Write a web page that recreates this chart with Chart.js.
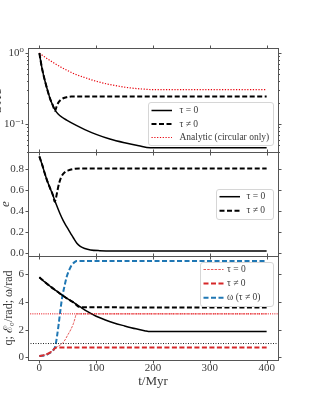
<!DOCTYPE html>
<html><head><meta charset="utf-8">
<script src="https://cdn.jsdelivr.net/npm/chart.js@4"></script>
<style>
html,body{margin:0;padding:0;background:#fff;}
#wrap{position:relative;width:311px;height:405px;overflow:hidden;background:#fff}
canvas{position:absolute;left:0;top:0}
</style></head>
<body><div id="wrap">
<canvas id="c1" width="311" height="405"></canvas>
<canvas id="c2" width="311" height="405"></canvas>
<canvas id="c3" width="311" height="405"></canvas>
</div>
<script>
// ---------- data ----------
const xTicks = [0, 100, 200, 300, 400];

// top panel (log)
const aTicks = [0.1, 1];
const aTickLabels = ['10\u207B\u00B9', '10\u2070'];
const aMinor = [0.04,0.05,0.06,0.07,0.08,0.09,0.2,0.3,0.4,0.5,0.6,0.7,0.8,0.9];
const tA0 = [0,2,4,7,10,14,19,24,28,33,40,48,65,80,100,124,150,175,195,400];
const aTau0 = [1.0,0.8,0.65,0.5,0.4,0.305,0.225,0.18,0.155,0.138,0.124,0.113,0.095,0.083,0.071,0.061,0.054,0.049,0.046,0.046];
const tA1 = [0,2,4,7,10,14,19,24,27.5,30,33,37,42,48,56,400];
const aTau1 = [1.0,0.8,0.65,0.5,0.4,0.305,0.225,0.18,0.152,0.172,0.197,0.216,0.23,0.238,0.243,0.243];
const tAn = [0,10,20,30,40,50,60,80,100,120,140,160,180,200,400];
const aAnalytic = [1.0,0.875,0.775,0.69,0.62,0.565,0.515,0.45,0.4,0.365,0.34,0.322,0.311,0.305,0.305];

// middle panel (e)
const eTicks = [0, 0.2, 0.4, 0.6, 0.8];
const tE0 = [0,5,10,13,18,24.6,30,36,42,48,55,60,66,72,80,90,106,130,400];
const eTau0 = [0.92,0.84,0.75,0.70,0.63,0.54,0.46,0.38,0.31,0.253,0.19,0.145,0.095,0.065,0.045,0.032,0.025,0.022,0.022];
const tE1 = [0,5,10,13,18,24,27,29,32,35,39,45,51,60,70,400];
const eTau1 = [0.92,0.84,0.75,0.70,0.63,0.55,0.49,0.52,0.60,0.67,0.73,0.77,0.787,0.80,0.805,0.805];

// bottom panel (q, E0, omega)
const qTicks = [0, 2, 4, 6];
const tQ0 = [0,10,20,30,40,50,60,72,85,100,115,130,150,170,185,195,400];
const qTau0 = [5.78,5.43,5.1,4.8,4.5,4.22,3.97,3.64,3.3,2.97,2.72,2.5,2.27,2.06,1.93,1.86,1.86];
const tQ1 = [0,10,20,30,40,50,60,72,400];
const qTau1 = [5.78,5.43,5.1,4.8,4.5,4.22,3.97,3.62,3.6];
const tW = [0,10,19,25,28,31,34,37,40,44,48,53,57,62,66,400];
const omegaTau1 = [0.1,0.15,0.33,0.55,0.8,1.5,2.4,3.4,4.3,5.1,5.8,6.35,6.67,6.88,6.96,6.96];
const tC0 = [0,10,20,25,30,35,40,45,50,55,60,63,65,400];
const calE0Tau0 = [0.1,0.18,0.38,0.55,0.72,0.85,1.0,1.25,1.62,1.98,2.45,2.85,3.14,3.14];
const tC1 = [0,10,20,25,28,31,400];
const calE0Tau1 = [0.1,0.18,0.38,0.55,0.68,0.72,0.72];
const tRef = [-20, 420];
const piLevel = [Math.PI, Math.PI];
const oneLevel = [1, 1];

// ---------- helpers ----------
const FONT = "'Liberation Serif','DejaVu Serif',serif";
const TXT = '#3a3a3a';
const FRAME = '#555';
const zip = (xs, ys) => xs.map((x, i) => ({x, y: ys[i]}));

function ds(label, xs, ys, color, width, dash, legend) {
  return {label, data: zip(xs, ys), borderColor: color, backgroundColor: color,
    borderWidth: width, borderDash: dash || [], pointRadius: 0, fill: false,
    cubicInterpolationMode: 'monotone', legend: !!legend};
}

const framePlugin = {
  id: 'frameLegend',
  afterDatasetsDraw(chart) {
    const o = chart.config.options.plugins.frameLegend;
    const {ctx, chartArea: a} = chart;
    const xs = chart.scales.x, ys = chart.scales.y;
    ctx.save();
    ctx.strokeStyle = FRAME; ctx.lineWidth = 1; ctx.setLineDash([]);
    const L = Math.round(a.left) + 0.5, R = Math.round(a.right) + 0.5;
    const T = Math.round(a.top) + 0.5, B = Math.round(a.bottom) + 0.5;
    ctx.strokeRect(L, T, R - L, B - T);
    ctx.beginPath();
    for (const v of xTicks) {
      const px = Math.round(xs.getPixelForValue(v)) + 0.5;
      ctx.moveTo(px, T); ctx.lineTo(px, T - 3);
      ctx.moveTo(px, B); ctx.lineTo(px, B + 3);
    }
    for (const v of o.major) {
      const py = Math.round(ys.getPixelForValue(v)) + 0.5;
      ctx.moveTo(L, py); ctx.lineTo(L - 3, py);
      ctx.moveTo(R, py); ctx.lineTo(R + 3, py);
    }
    for (const v of (o.minor || [])) {
      const py = Math.round(ys.getPixelForValue(v)) + 0.5;
      ctx.moveTo(L, py); ctx.lineTo(L - 1.5, py);
      ctx.moveTo(R, py); ctx.lineTo(R + 1.5, py);
    }
    ctx.stroke();

    // legend
    const lg = o.legend;
    const items = chart.data.datasets.filter(d => d.legend);
    ctx.fillStyle = 'rgba(255,255,255,0.85)';
    ctx.strokeStyle = '#d6d6d6';
    ctx.lineWidth = 1;
    const r = 2.5, bx = lg.x0 + 0.5, by = lg.y0 + 0.5, bw = lg.x1 - lg.x0, bh = lg.y1 - lg.y0;
    ctx.beginPath();
    ctx.moveTo(bx + r, by); ctx.lineTo(bx + bw - r, by); ctx.arcTo(bx + bw, by, bx + bw, by + r, r);
    ctx.lineTo(bx + bw, by + bh - r); ctx.arcTo(bx + bw, by + bh, bx + bw - r, by + bh, r);
    ctx.lineTo(bx + r, by + bh); ctx.arcTo(bx, by + bh, bx, by + bh - r, r);
    ctx.lineTo(bx, by + r); ctx.arcTo(bx, by, bx + r, by, r); ctx.closePath();
    ctx.fill(); ctx.stroke();
    ctx.font = lg.fontSize + 'px ' + FONT;
    ctx.textBaseline = 'middle'; ctx.textAlign = 'left';
    items.forEach((d, i) => {
      const y = lg.rows[i];
      ctx.strokeStyle = d.borderColor; ctx.lineWidth = d.borderWidth;
      ctx.setLineDash(d.borderDash || []);
      ctx.beginPath(); ctx.moveTo(lg.s0, y); ctx.lineTo(lg.s1, y); ctx.stroke();
      ctx.setLineDash([]);
      ctx.fillStyle = TXT;
      ctx.fillText(d.label, lg.tx, y);
    });
    ctx.restore();
  }
};

function makePanel(id, area, yCfg, datasets, plug, showX) {
  const xScale = {
    type: 'linear', min: -20, max: 420, display: !!showX, position: 'bottom',
    grid: {display: false, drawTicks: false}, border: {display: false},
    ticks: {color: TXT, font: {family: FONT, size: 11}, padding: 2, autoSkip: false, maxRotation: 0,
      callback: v => String(v)},
    afterBuildTicks: s => { s.ticks = xTicks.map(v => ({value: v})); },
    afterFit: s => { s.height = showX ? 29 : 0; },
    title: {display: !!showX, text: 't/Myr', color: TXT, font: {family: FONT, size: 13}, padding: {top: 0, bottom: 0}}
  };
  const yScale = Object.assign({
    position: 'left',
    grid: {display: false, drawTicks: false}, border: {display: false},
    afterFit: s => { s.width = area.l; }
  }, yCfg);
  return new Chart(document.getElementById(id), {
    type: 'line',
    data: {datasets},
    options: {
      responsive: false, animation: false, devicePixelRatio: 1,
      parsing: true, normalized: true,
      layout: {padding: {left: 0, right: 311 - area.r, top: area.t, bottom: 405 - area.b - (showX ? 29 : 0)}},
      scales: {x: xScale, y: yScale},
      plugins: {legend: {display: false}, tooltip: {enabled: false}, frameLegend: plug}
    },
    plugins: [framePlugin]
  });
}

const tickFont = {family: FONT, size: 11};

// ---------- top panel ----------
makePanel('c1', {l: 28, r: 278, t: 48, b: 152}, {
  type: 'logarithmic', min: 0.04, max: 1.18,
  ticks: {color: TXT, font: tickFont, padding: 4, autoSkip: false,
    callback: v => { const i = aTicks.indexOf(v); return i >= 0 ? aTickLabels[i] : ''; }},
  afterBuildTicks: s => { s.ticks = aTicks.map(v => ({value: v})); },
  title: {display: true, text: 'a/AU', color: TXT, font: {family: FONT, size: 12}, padding: {top: -9, bottom: 0}}
}, [
  ds('\u03C4 = 0', tA0, aTau0, '#000', 1.5, [], true),
  ds('\u03C4 \u2260 0', tA1, aTau1, '#000', 2, [5, 2.5], true),
  ds('Analytic (circular only)', tAn, aAnalytic, '#e8000b', 1.2, [1.2, 1.6], true)
], {
  major: aTicks, minor: aMinor,
  legend: {x0: 148, x1: 273, y0: 102, y1: 145, rows: [110.5, 124, 137.5], s0: 151.5, s1: 172, tx: 179.5, fontSize: 9.5}
});

// ---------- middle panel ----------
makePanel('c2', {l: 28, r: 278, t: 152, b: 256}, {
  type: 'linear', min: -0.026, max: 0.962,
  ticks: {color: TXT, font: tickFont, padding: 4, autoSkip: false, callback: v => v.toFixed(1)},
  afterBuildTicks: s => { s.ticks = eTicks.map(v => ({value: v})); },
  title: {display: true, text: 'e', color: TXT, font: {family: FONT, size: 13, style: 'italic'}, padding: {top: -2, bottom: 0}}
}, [
  ds('\u03C4 = 0', tE0, eTau0, '#000', 1.5, [], true),
  ds('\u03C4 \u2260 0', tE1, eTau1, '#000', 2, [5, 2.5], true)
], {
  major: eTicks,
  legend: {x0: 216, x1: 273, y0: 189, y1: 219, rows: [196.7, 210.7], s0: 219.5, s1: 240, tx: 246.5, fontSize: 9.5}
});

// ---------- bottom panel ----------
makePanel('c3', {l: 28, r: 278, t: 256, b: 360}, {
  type: 'linear', min: -0.19, max: 7.32,
  ticks: {color: TXT, font: tickFont, padding: 4, autoSkip: false, callback: v => String(v)},
  afterBuildTicks: s => { s.ticks = qTicks.map(v => ({value: v})); },
  title: {display: true, text: 'q; \u2130\u2080/rad; \u03C9/rad', color: TXT, font: {family: FONT, size: 12}, padding: {top: 2, bottom: 0}}
}, [
  ds('ref pi', tRef, piLevel, '#e8000b', 1, [1, 1.2], false),
  ds('ref one', tRef, oneLevel, '#222', 1, [1, 1.5], false),
  ds('q tau0', tQ0, qTau0, '#000', 1.5, [], false),
  ds('q tau1', tQ1, qTau1, '#000', 2, [5, 2.5], false),
  ds('\u03C4 = 0', tC0, calE0Tau0, 'rgba(226,60,60,0.85)', 1, [2.5, 1.2], true),
  ds('\u03C4 \u2260 0', tC1, calE0Tau1, '#d62728', 2, [5, 2.5], true),
  ds('\u03C9 (\u03C4 \u2260 0)', tW, omegaTau1, '#1f77b4', 2, [5, 2.5], true)
], {
  major: qTicks,
  legend: {x0: 200, x1: 273, y0: 262, y1: 306, rows: [269.5, 283.5, 297.7], s0: 203.5, s1: 223.5, tx: 227, fontSize: 9.5}
}, true);
</script>
</body></html>
